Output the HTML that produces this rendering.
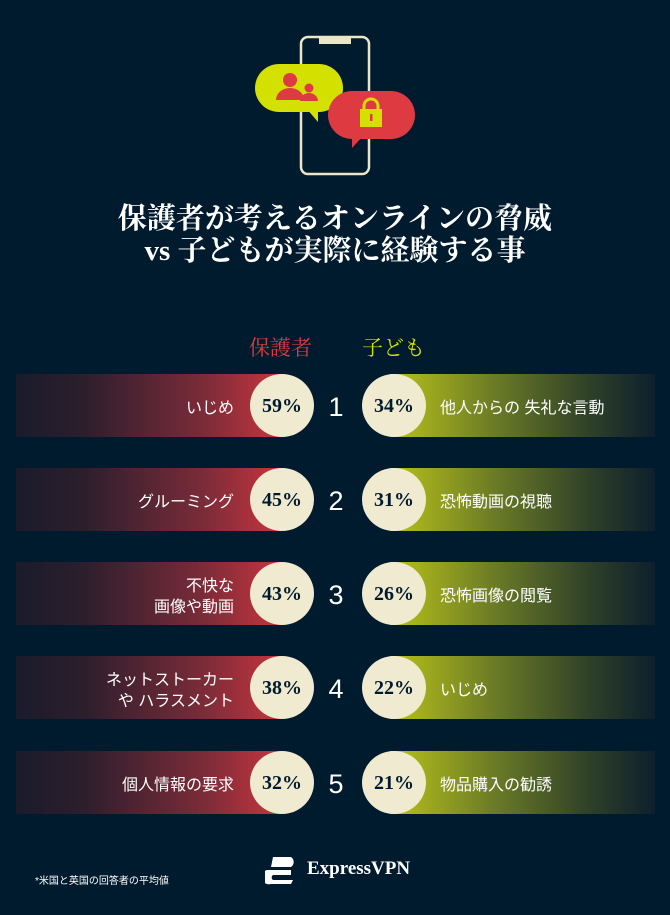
<!DOCTYPE html>
<html><head><meta charset="utf-8"><style>
body{margin:0;width:670px;height:915px;background:#001b2e;position:relative;overflow:hidden;font-family:"Liberation Sans","Noto Sans CJK JP",sans-serif;color:#fff}
.t{position:absolute;left:0;width:670px;text-align:center;font-family:"Liberation Serif","Noto Serif CJK SC",serif;font-weight:bold;font-size:29px;line-height:32px;white-space:nowrap}
.h{position:absolute;top:332px;font-family:"Liberation Serif","Noto Serif CJK SC",serif;font-size:21px}
.lb{position:absolute;left:16px;width:266px;height:63px;background:linear-gradient(90deg,#1a1b2b 0%,#2c1e2d 25%,#7a2b38 70%,#c7353f 100%)}
.rb{position:absolute;left:390px;width:265px;height:63px;background:linear-gradient(90deg,#b9c219 0%,#6a7a26 40%,#2f4128 75%,#0d1f2d 100%)}
.c{position:absolute;width:64px;height:63px;border-radius:50%;background:#f0ead0;color:#001b2e;font-family:"Liberation Serif",serif;font-weight:bold;font-size:20px;line-height:65px;text-align:center}
.n{position:absolute;left:318px;width:36px;height:63px;line-height:66px;text-align:center;font-size:27px}
.lt{position:absolute;right:436px;height:63px;padding-top:3px;display:flex;align-items:center;text-align:right;font-size:16px;line-height:21px}
.rt{position:absolute;left:440px;height:63px;padding-top:3px;display:flex;align-items:center;font-size:16px;line-height:21px}
</style></head><body>
<svg style="position:absolute;left:0;top:0" width="670" height="200">
<rect x="301" y="37" width="68" height="137" rx="7" fill="none" stroke="#ece6c8" stroke-width="2.5"/>
<rect x="319" y="36" width="32" height="8" fill="#ece6c8"/>
<rect x="255" y="64" width="88" height="48" rx="24" fill="#d4e000"/>
<polygon points="306,108 318,108 318,122" fill="#d4e000"/>
<circle cx="290" cy="80" r="7" fill="#dd3a42"/><path d="M276 100 a14 12 0 0 1 28 0z" fill="#dd3a42"/>
<circle cx="309" cy="88" r="4.5" fill="#dd3a42"/><path d="M300 101 a9 8 0 0 1 18 0z" fill="#dd3a42"/>
<rect x="328" y="91" width="87" height="48" rx="24" fill="#dd3a42"/>
<polygon points="352,135 364,135 352,148" fill="#dd3a42"/>
<path d="M364 110 v-4 a7 7 0 0 1 14 0 v4" fill="none" stroke="#d4e000" stroke-width="3"/>
<rect x="360" y="109" width="22" height="18" fill="#d4e000"/><rect x="370" y="114" width="2.5" height="7" fill="#dd3a42"/>
</svg>
<div class="t" style="top:203px">保護者が考えるオンラインの脅威</div>
<div class="t" style="top:235px">vs 子どもが実際に経験する事</div>
<div class="h" style="left:249px;color:#dd3a42">保護者</div>
<div class="h" style="left:362px;color:#d4e000">子ども</div>

<div class="lb" style="top:374px"></div><div class="rb" style="top:374px"></div>
<div class="c" style="left:250px;top:374px">59%</div><div class="c" style="left:362px;top:374px">34%</div>
<div class="n" style="top:374px">1</div>
<div class="lt" style="top:374px">いじめ</div><div class="rt" style="top:374px">他人からの 失礼な言動</div>

<div class="lb" style="top:468px"></div><div class="rb" style="top:468px"></div>
<div class="c" style="left:250px;top:468px">45%</div><div class="c" style="left:362px;top:468px">31%</div>
<div class="n" style="top:468px">2</div>
<div class="lt" style="top:468px">グルーミング</div><div class="rt" style="top:468px">恐怖動画の視聴</div>

<div class="lb" style="top:562px"></div><div class="rb" style="top:562px"></div>
<div class="c" style="left:250px;top:562px">43%</div><div class="c" style="left:362px;top:562px">26%</div>
<div class="n" style="top:562px">3</div>
<div class="lt" style="top:562px">不快な<br>画像や動画</div><div class="rt" style="top:562px">恐怖画像の閲覧</div>

<div class="lb" style="top:656px"></div><div class="rb" style="top:656px"></div>
<div class="c" style="left:250px;top:656px">38%</div><div class="c" style="left:362px;top:656px">22%</div>
<div class="n" style="top:656px">4</div>
<div class="lt" style="top:656px">ネットストーカー<br>や ハラスメント</div><div class="rt" style="top:656px">いじめ</div>

<div class="lb" style="top:751px"></div><div class="rb" style="top:751px"></div>
<div class="c" style="left:250px;top:751px">32%</div><div class="c" style="left:362px;top:751px">21%</div>
<div class="n" style="top:751px">5</div>
<div class="lt" style="top:751px">個人情報の要求</div><div class="rt" style="top:751px">物品購入の勧誘</div>

<div style="position:absolute;left:35px;top:872px;font-size:10px">*米国と英国の回答者の平均値</div>
<svg style="position:absolute;left:265px;top:855px" width="36" height="30">
<path d="M8 2 h18 a6 6 0 0 1 0 10 h-20 z" fill="#fff"/><path d="M2 15 h24 v5 h-18 a3 3 0 0 0 0 5 h20 l-2 4 h-20 a7 7 0 0 1 -4 -14z" fill="#fff"/>
</svg>
<div style="position:absolute;left:307px;top:858px;font-family:'Liberation Serif',serif;font-weight:bold;font-size:19px">ExpressVPN</div>
</body></html>
